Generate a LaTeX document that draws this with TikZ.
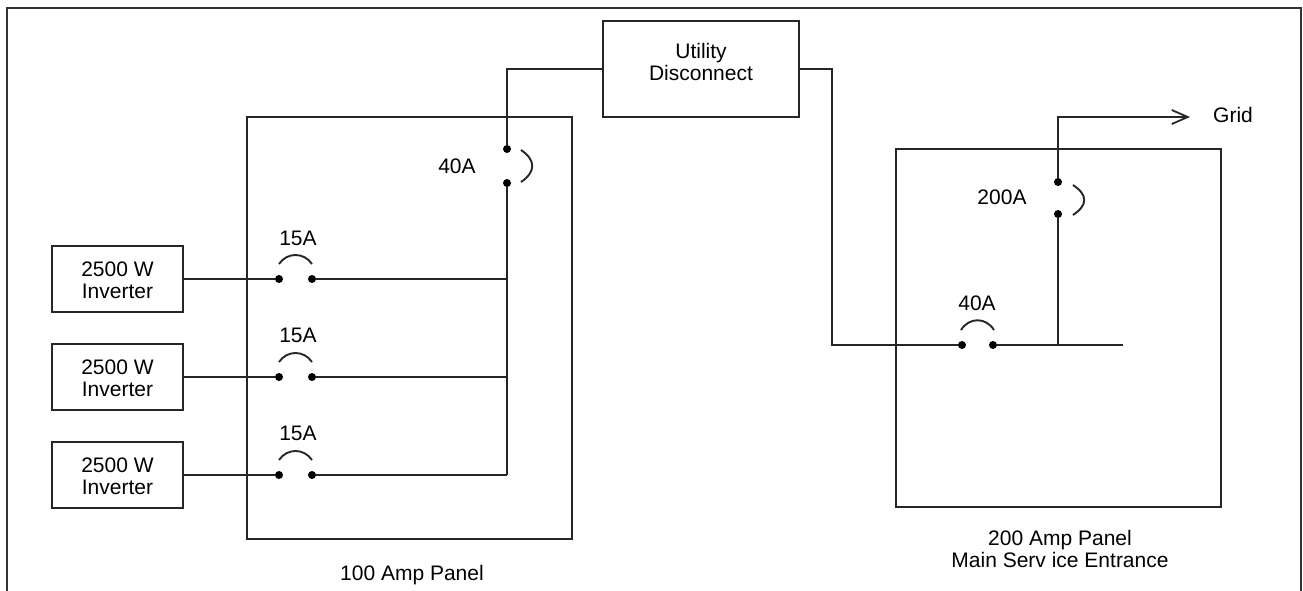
\documentclass[tikz,border=0pt]{standalone}
\usepackage{fontspec}
\setmainfont{Liberation Sans}
\usetikzlibrary{arrows.meta}
\begin{document}
\begin{tikzpicture}[x=1pt,y=-1pt,
  wire/.style={line width=1.9pt, draw=black!85, line join=miter},
  box/.style={draw=black!85, line width=1.9pt, inner sep=0pt, rectangle},
  lbl/.style={font=\fontsize{21}{22}\selectfont, text=black, inner sep=0pt, align=center},
  dotn/.style={circle, fill=black, inner sep=0pt, minimum size=8pt},
  frame/.style={line width=2pt, draw=black!80}]
\useasboundingbox (0,0) rectangle (1303,590);
\draw[frame] (6.5,595) -- (6.5,8) -- (1300.5,8) -- (1300.5,595);

% panels
\node[box, minimum width=325pt, minimum height=422pt] (p100) at (409.5,328) {};
\node[box, minimum width=325pt, minimum height=358pt] (p200) at (1058.5,328) {};
\node[lbl] (p100l) at (412,575) {100 Amp Panel};
\node[lbl] (p200l) at (1060,549) {200 Amp Panel\\Main Serv ice Entrance};

% inverters
\node[box, minimum width=131pt, minimum height=66pt] (inv1) at (117.5,279) {};
\node[box, minimum width=131pt, minimum height=66pt] (inv2) at (117.5,377) {};
\node[box, minimum width=131pt, minimum height=66pt] (inv3) at (117.5,475) {};
\node[lbl] (inv1t) at (117.5,280) {2500 W\\Inverter};
\node[lbl] (inv2t) at (117.5,378) {2500 W\\Inverter};
\node[lbl] (inv3t) at (117.5,476) {2500 W\\Inverter};

% utility disconnect
\node[box, minimum width=196pt, minimum height=96pt] (ud) at (701,69) {};
\node[lbl] (udt) at (701,62) {Utility\\Disconnect};

% breaker dots
\node[dotn] (d1a) at (279,279) {};
\node[dotn] (d1b) at (312,279) {};
\node[dotn] (d2a) at (279,377) {};
\node[dotn] (d2b) at (312,377) {};
\node[dotn] (d3a) at (279,475) {};
\node[dotn] (d3b) at (312,475) {};
\node[dotn] (v1) at (507,149) {};
\node[dotn] (v2) at (507,183) {};
\node[dotn] (r1) at (962,345) {};
\node[dotn] (r2) at (993,345) {};
\node[dotn] (g1) at (1058,182) {};
\node[dotn] (g2) at (1058,214) {};

% breaker labels
\node[lbl] (l15a) at (298,238) {15A};
\node[lbl] (l15b) at (298,335) {15A};
\node[lbl] (l15c) at (298,433) {15A};
\node[lbl] (l40a) at (457,166) {40A};
\node[lbl] (l200) at (1002,197) {200A};
\node[lbl] (l40b) at (977,303) {40A};
\node[lbl] (grid) at (1233,115) {Grid};

% coordinates
\coordinate (b1) at (507,279);
\coordinate (b2) at (507,377);
\coordinate (b3) at (507,475);
\coordinate (t1) at (507,69);
\coordinate (t2) at (832,69);
\coordinate (c1) at (832,345);
\coordinate (e1) at (1123,345);
\coordinate (j1) at (1058,345);
\coordinate (t3) at (1058,117);
\coordinate (tip) at (1190,117);

% wires
\draw[wire] (inv1.east) -- (d1a);
\draw[wire] (inv2.east) -- (d2a);
\draw[wire] (inv3.east) -- (d3a);
\draw[wire] (d1b) -- (b1);
\draw[wire] (d2b) -- (b2);
\draw[wire] (d3b) -- (b3);
\draw[wire] (ud.west) -- (t1) -- (v1);
\draw[wire] (v2) -- (b3);
\draw[wire] (ud.east) -- (t2) -- (c1) -- (r1);
\draw[wire] (r2) -- (e1);
\draw[wire] (j1) -- (g2);
\draw[wire, -{Straight Barb[length=16pt,width=14pt,line width=1.8pt]}] (g1) -- (t3) -- (tip);

% breaker arcs
\draw[wire] (279,264) .. controls (287,252) and (304,252) .. (312,264);
\draw[wire] (279,362) .. controls (287,350) and (304,350) .. (312,362);
\draw[wire] (279,460) .. controls (287,448) and (304,448) .. (312,460);
\draw[wire] (521,150) .. controls (536,160) and (536,172) .. (521,182);
\draw[wire] (1073,185) .. controls (1088,195) and (1088,205) .. (1073,215);
\draw[wire] (961,330) .. controls (969,317) and (986,317) .. (994,330);
\end{tikzpicture}
\end{document}
